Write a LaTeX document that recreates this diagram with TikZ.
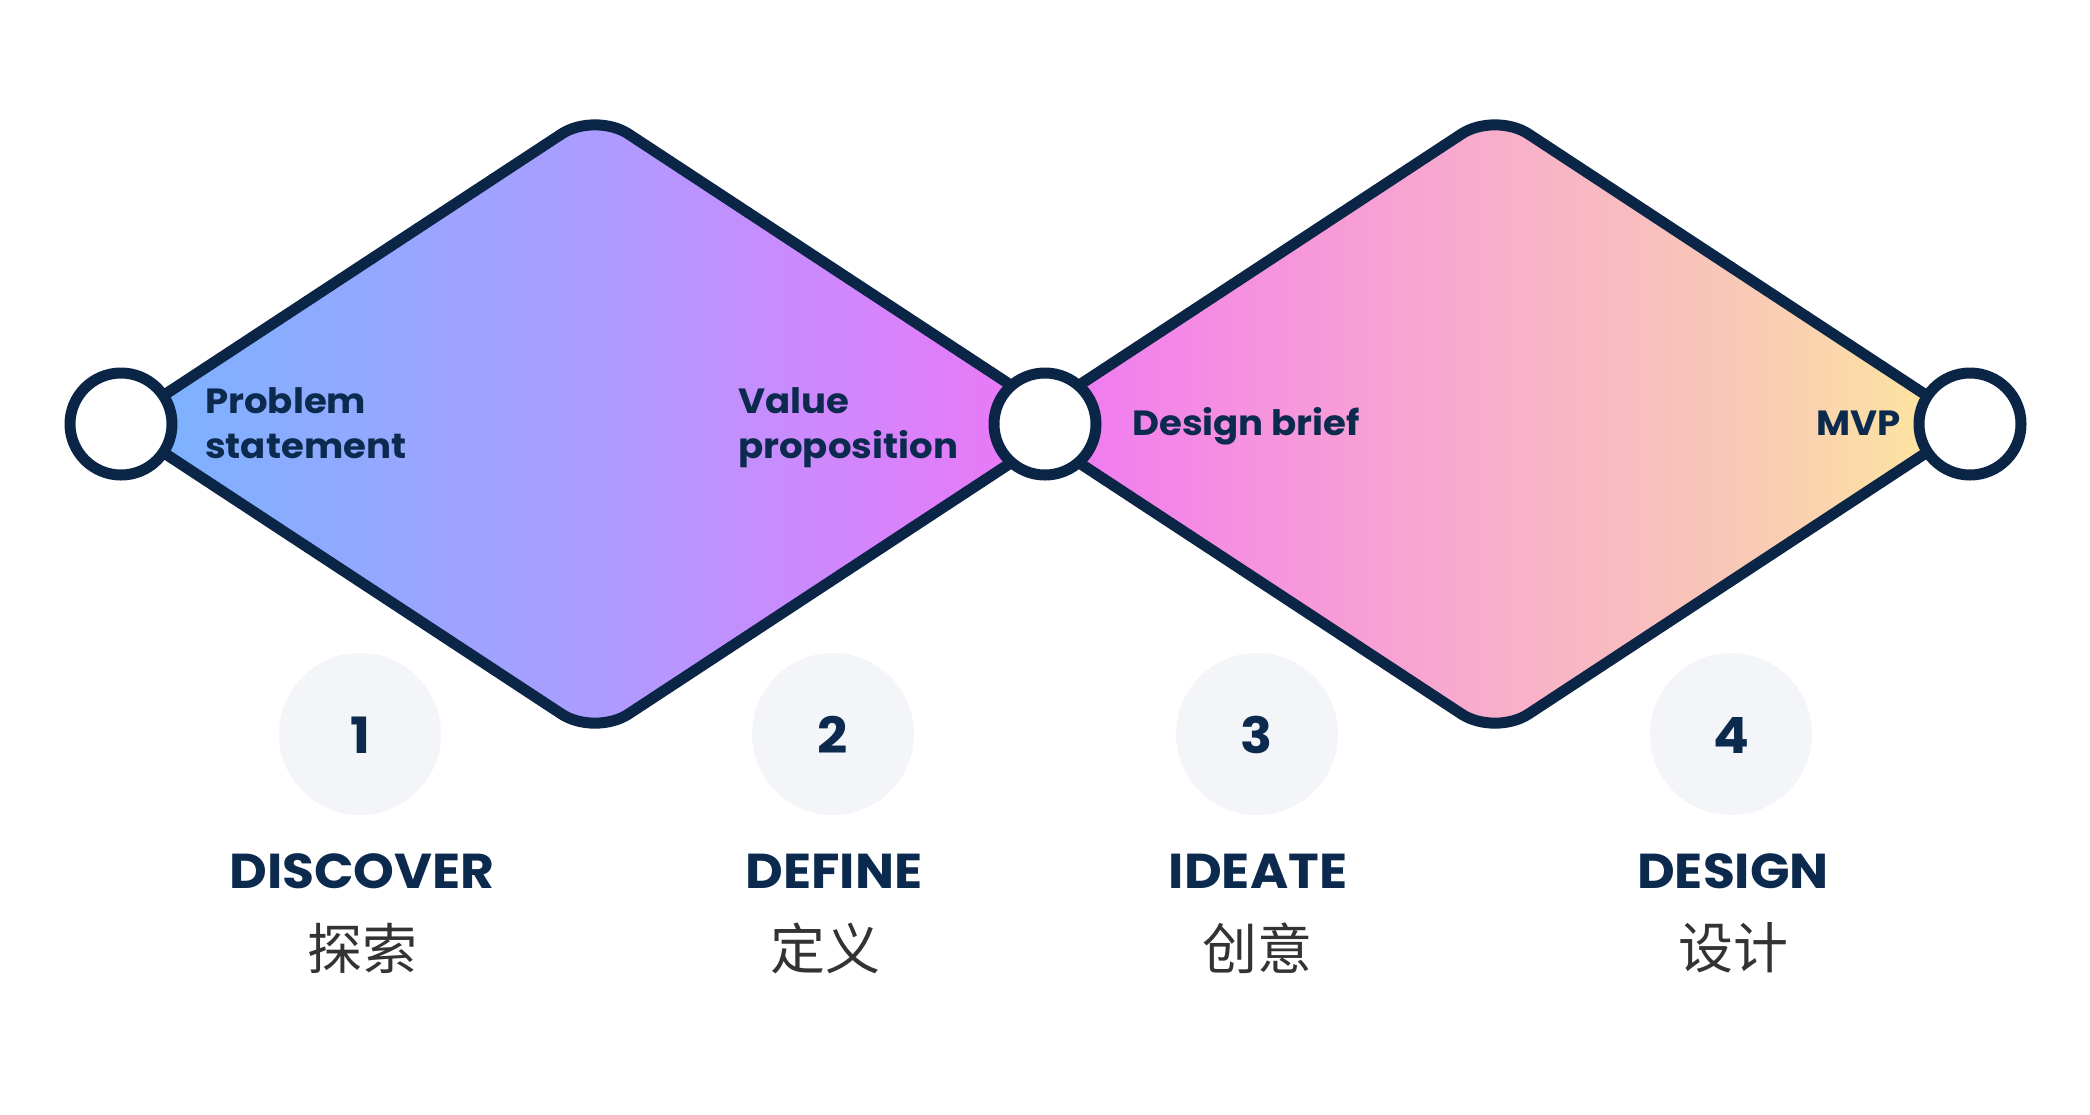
\documentclass[tikz,border=0pt]{standalone}
\usepackage{fontspec}
\setmainfont{Poppins}
\newfontfamily\widefont{Poppins}[FakeStretch=1.06]
\newfontfamily\cjk{Noto Sans CJK SC}
\definecolor{navy}{HTML}{0B2546}
\definecolor{txt}{HTML}{0B2A4E}
\definecolor{numbg}{HTML}{F3F5F9}
\definecolor{cjkgray}{HTML}{333333}
\definecolor{g1}{HTML}{78B4FF}
\definecolor{g2}{HTML}{AB9DFF}
\definecolor{g3}{HTML}{D385FC}
\definecolor{g4}{HTML}{EE77F5}
\definecolor{g5}{HTML}{F68FE0}
\definecolor{g6}{HTML}{F8B0CA}
\definecolor{g7}{HTML}{F9C9B5}
\definecolor{g8}{HTML}{FDEB9C}
\pgfdeclarehorizontalshading{dd}{100bp}{color(0bp)=(g1); color(25bp)=(g1); color(37.5bp)=(g2); color(45bp)=(g3); color(50bp)=(g4); color(55bp)=(g5); color(62.5bp)=(g6); color(69bp)=(g7); color(75bp)=(g8); color(100bp)=(g8)}
\tikzset{
  hub/.style={circle, draw=navy, fill=white, line width=11pt, minimum size=102pt, inner sep=0pt},
  numcirc/.style={circle, fill=numbg, minimum size=162pt, inner sep=0pt},
  digit/.style={text=txt, font=\fontsize{50}{50}\selectfont\widefont\bfseries, anchor=base, inner sep=0pt},
  inlabel/.style={text=txt, font=\fontsize{35}{45}\selectfont\widefont\bfseries, align=left, inner sep=0pt},
  phase/.style={text=txt, font=\fontsize{49}{49}\selectfont\widefont\bfseries, inner sep=0pt, anchor=base},
  cn/.style={text=cjkgray, font=\fontsize{55}{55}\selectfont\cjk, inner sep=0pt},
  outline/.style={draw=navy, line width=11pt, rounded corners=40pt, line join=round}
}
\begin{document}
\begin{tikzpicture}[x=1pt,y=-1pt]
\useasboundingbox (0,0) rectangle (2090,1114);
% diamonds
\shade[shading=dd, rounded corners=40pt]
  (120,424) -- (595,112) -- (1070,424) -- (595,736) -- cycle
  (1020,424) -- (1495,112) -- (1970,424) -- (1495,736) -- cycle;
\draw[outline] (120,424) -- (595,112) -- (1070,424) -- (595,736) -- cycle;
\draw[outline] (1020,424) -- (1495,112) -- (1970,424) -- (1495,736) -- cycle;
% hubs
\node[hub] (h1) at (121,424) {};
\node[hub] (h2) at (1045,424) {};
\node[hub] (h3) at (1970,424) {};
% labels inside diamonds
\node[inlabel, anchor=base west] (l1) at (205,458) {Problem\\statement};
\node[inlabel, anchor=base west] (l2) at (738,458) {Value\\proposition};
\node[inlabel, anchor=base west] (l3) at (1132,435) {Design brief};
\node[inlabel, anchor=base east] (l4) at (1901,435) {MVP};
% number circles
\node[numcirc] (n1) at (360,734) {};
\node[numcirc] (n2) at (833,734) {};
\node[numcirc] (n3) at (1257,734) {};
\node[numcirc] (n4) at (1731,734) {};
\node[digit] (d1) at (360,753) {1};
\node[digit] (d2) at (833,753) {2};
\node[digit] (d3) at (1257,753) {3};
\node[digit] (d4) at (1731,753) {4};
% phase names
\node[phase] (p1) at (362,888) {DISCOVER};
\node[phase] (p2) at (834,888) {DEFINE};
\node[phase] (p3) at (1258,888) {IDEATE};
\node[phase] (p4) at (1733,888) {DESIGN};
\node[cn] (c1) at (362,948) {探索};
\node[cn] (c2) at (825,948) {定义};
\node[cn] (c3) at (1257,948) {创意};
\node[cn] (c4) at (1733,948) {设计};
\end{tikzpicture}
\end{document}
